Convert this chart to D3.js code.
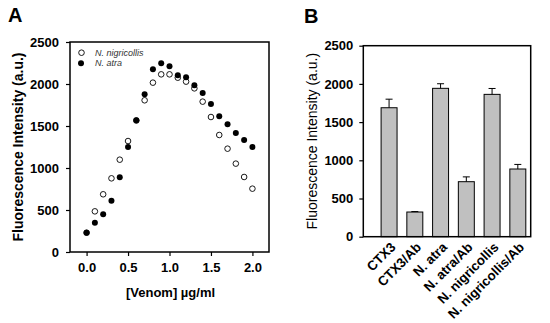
<!DOCTYPE html>
<html><head><meta charset="utf-8">
<script src="https://cdn.jsdelivr.net/npm/d3@7"></script>
<style>
body{margin:0;background:#fff;}
svg{display:block;font-family:"Liberation Sans",Arial,sans-serif;}
</style></head>
<body>
<svg id="c" width="550" height="323"></svg>
<script>
// ---- Panel A data ----
const concA = [0.0,0.1,0.2,0.3,0.4,0.5,0.6,0.7,0.8,0.9,1.0,1.1,1.2,1.3,1.4,1.5,1.6,1.7,1.8,1.9,2.0];
const nigricollis = [230,484,687,877,1099,1321,1565,1806,2016,2115,2115,2075,2028,1948,1790,1607,1393,1230,1052,893,754];
const atra = [230,349,448,611,889,1250,1567,1877,2175,2246,2210,2103,2079,1984,1893,1762,1615,1520,1417,1333,1250];
const xTicksA = [0.0,0.5,1.0,1.5,2.0];
const yTicks = [0,500,1000,1500,2000,2500];
const seriesNames = ["N. nigricollis","N. atra"];
// ---- Panel B data ----
const categoriesB = ["CTX3","CTX3/Ab","N. atra","N. atra/Ab","N. nigricollis","N. nigricollis/Ab"];
const valuesB = [1688,323,1942,720,1863,886];
const errorsB = [112,6,60,63,77,60];

const svg = d3.select("#c");
const F = '"Liberation Sans",Arial,sans-serif';
const styleAxis = g=>{g.select(".domain").remove();g.selectAll("text").attr("font-size",13).attr("font-weight","bold").attr("font-family",F).attr("fill","#000");g.selectAll("line").attr("stroke","#000").attr("stroke-width",1.2);};

// ================= Panel A =================
const A = {l:70,r:269,t:42,b:252};
const xA = d3.scaleLinear().domain([-0.2,2.2]).range([A.l,A.r]);
const yA = d3.scaleLinear().domain([0,2500]).range([A.b,A.t]);

const gA = svg.append("g");
gA.append("g").attr("transform",`translate(0,${A.b})`)
  .call(d3.axisBottom(xA).tickValues(xTicksA).tickFormat(d3.format(".1f")).tickSize(4).tickPadding(7))
  .call(styleAxis);
gA.append("g").attr("transform",`translate(${A.l},0)`)
  .call(d3.axisLeft(yA).tickValues(yTicks).tickFormat(d3.format("d")).tickSize(4).tickPadding(7))
  .call(styleAxis);
gA.append("rect").attr("x",A.l).attr("y",A.t).attr("width",A.r-A.l).attr("height",A.b-A.t)
  .attr("fill","none").attr("stroke","#000").attr("stroke-width",1.5);

gA.selectAll("circle.n").data(concA).join("circle").attr("class","n")
  .attr("cx",(d)=>xA(d)).attr("cy",(d,i)=>yA(nigricollis[i])).attr("r",2.8)
  .attr("fill","#fff").attr("stroke","#000").attr("stroke-width",0.9);
gA.selectAll("circle.a").data(concA).join("circle").attr("class","a")
  .attr("cx",(d)=>xA(d)).attr("cy",(d,i)=>yA(atra[i])).attr("r",3)
  .attr("fill","#000");

// legend
const leg = gA.append("g");
leg.append("circle").attr("cx",81.5).attr("cy",52.7).attr("r",2.8).attr("fill","#fff").attr("stroke","#000").attr("stroke-width",0.9);
leg.append("circle").attr("cx",81).attr("cy",63.3).attr("r",3).attr("fill","#000");
leg.selectAll("text").data(seriesNames).join("text")
  .attr("x",95).attr("y",(d,i)=>52.7+i*10.6).attr("dy","0.35em")
  .attr("font-size",9).attr("font-style","italic").attr("fill","#333").text(d=>d);

gA.append("text").attr("transform",`translate(23,${(A.t+A.b)/2}) rotate(-90)`)
  .attr("text-anchor","middle").attr("font-size",14).attr("font-weight","bold").text("Fluorescence Intensity (a.u.)");
gA.append("text").attr("x",(A.l+A.r)/2+1).attr("y",297).attr("text-anchor","middle")
  .attr("font-size",13).attr("font-weight","bold").text("[Venom] µg/ml");
gA.append("text").attr("x",8).attr("y",22).attr("font-size",20).attr("font-weight","bold").text("A");

// ================= Panel B =================
const B = {l:363.3,r:530.7,t:45.7,b:236.7};
const yB = d3.scaleLinear().domain([0,2500]).range([B.b,B.t]);
const xB = d3.scaleBand().domain(categoriesB).range([B.l+12.9,B.r]).paddingInner(0.38).paddingOuter(0.19);

const gB = svg.append("g");
gB.append("g").attr("transform",`translate(${B.l},0)`)
  .call(d3.axisLeft(yB).tickValues(yTicks).tickFormat(d3.format("d")).tickSize(4).tickPadding(6))
  .call(styleAxis);

gB.selectAll("rect.bar").data(categoriesB).join("rect").attr("class","bar")
  .attr("x",d=>xB(d)).attr("width",xB.bandwidth())
  .attr("y",(d,i)=>yB(valuesB[i])).attr("height",(d,i)=>B.b-yB(valuesB[i]))
  .attr("fill","#c0c0c0").attr("stroke","#000").attr("stroke-width",1);
// error bars
gB.selectAll("line.err").data(categoriesB).join("line").attr("class","err")
  .attr("x1",d=>xB(d)+xB.bandwidth()/2).attr("x2",d=>xB(d)+xB.bandwidth()/2)
  .attr("y1",(d,i)=>yB(valuesB[i])).attr("y2",(d,i)=>yB(valuesB[i]+errorsB[i]))
  .attr("stroke","#000").attr("stroke-width",1);
gB.selectAll("line.cap").data(categoriesB).join("line").attr("class","cap")
  .attr("x1",d=>xB(d)+xB.bandwidth()/2-3.5).attr("x2",d=>xB(d)+xB.bandwidth()/2+3.5)
  .attr("y1",(d,i)=>yB(valuesB[i]+errorsB[i])).attr("y2",(d,i)=>yB(valuesB[i]+errorsB[i]))
  .attr("stroke","#000").attr("stroke-width",1);

gB.append("rect").attr("x",B.l).attr("y",B.t).attr("width",B.r-B.l).attr("height",B.b-B.t)
  .attr("fill","none").attr("stroke","#000").attr("stroke-width",1.5);

gB.selectAll("text.xl").data(categoriesB).join("text").attr("class","xl")
  .attr("transform",d=>`translate(${xB(d)+xB.bandwidth()/2+4},${B.b+8}) rotate(-45)`)
  .attr("text-anchor","end").attr("dy","0.35em")
  .attr("font-size",13.3).attr("font-weight","bold").text(d=>d);

gB.append("text").attr("transform",`translate(317,${(B.t+B.b)/2}) rotate(-90)`)
  .attr("text-anchor","middle").attr("font-size",14).text("Fluorescence Intensity (a.u.)");
gB.append("text").attr("x",304).attr("y",23).attr("font-size",20).attr("font-weight","bold").text("B");
</script>
</body></html>
